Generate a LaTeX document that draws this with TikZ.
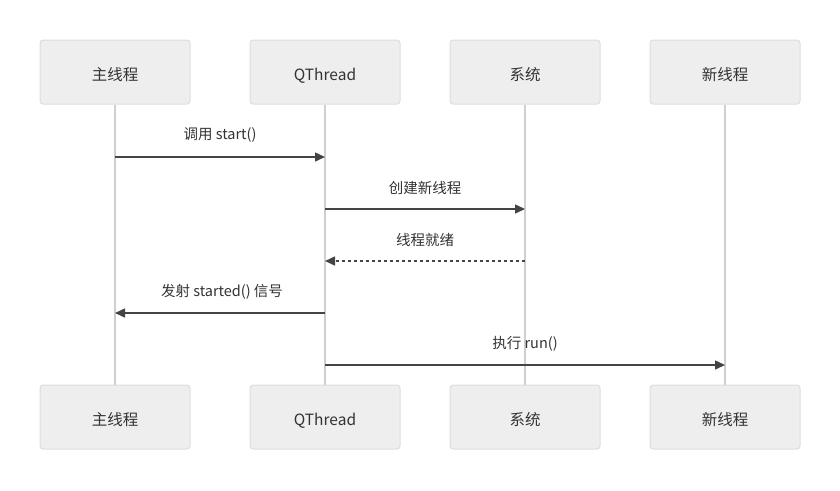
\documentclass[tikz,border=0pt]{standalone}
\usepackage{fontspec}
\setmainfont{Noto Sans CJK SC}
\usetikzlibrary{arrows.meta}
\definecolor{boxfill}{HTML}{EEEEEE}
\definecolor{boxline}{HTML}{DDDDDD}
\definecolor{lifeline}{HTML}{CFCFCF}
\definecolor{msgline}{HTML}{444444}
\definecolor{txt}{HTML}{333333}
\tikzset{
  actor/.style={draw=boxline, fill=boxfill, line width=1pt, rounded corners=3pt,
    minimum width=150pt, minimum height=64pt, inner sep=0pt,
    text height=17.5pt, text depth=0pt,
    font=\fontsize{15.5}{18}\selectfont, text=txt},
  life/.style={draw=lifeline, line width=2pt},
  msg/.style={draw=msgline, line width=1.5pt, -{Triangle[length=10pt,width=9pt]}},
  reply/.style={msg, dash pattern=on 3pt off 3pt},
  lbl/.style={font=\fontsize{14.5}{17}\selectfont, text=txt, inner sep=0pt},
}
\begin{document}
\begin{tikzpicture}[x=1pt,y=-1pt]
\useasboundingbox (0,0) rectangle (840,490);
% boxes
\node[actor] (a1) at (115,72) {主线程};
\node[actor] (b1) at (325,72) {QThread};
\node[actor] (c1) at (525,72) {系统};
\node[actor] (d1) at (725,72) {新线程};
\node[actor] (a2) at (115,417) {主线程};
\node[actor] (b2) at (325,417) {QThread};
\node[actor] (c2) at (525,417) {系统};
\node[actor] (d2) at (725,417) {新线程};
% lifelines
\draw[life] (a1.south) -- (a2.north);
\draw[life] (b1.south) -- (b2.north);
\draw[life] (c1.south) -- (c2.north);
\draw[life] (d1.south) -- (d2.north);
% message points
\coordinate (m1s) at (115,157); \coordinate (m1e) at (325,157);
\coordinate (m2s) at (325,209); \coordinate (m2e) at (525,209);
\coordinate (m3s) at (525,261); \coordinate (m3e) at (325,261);
\coordinate (m4s) at (325,313); \coordinate (m4e) at (115,313);
\coordinate (m5s) at (325,365); \coordinate (m5e) at (725,365);
\draw[msg] (m1s) -- (m1e);
\draw[msg] (m2s) -- (m2e);
\draw[reply] (m3s) -- (m3e);
\draw[msg] (m4s) -- (m4e);
\draw[msg] (m5s) -- (m5e);
\node[lbl] (l1) at (220,135) {调用 start()};
\node[lbl] (l2) at (425,188) {创建新线程};
\node[lbl] (l3) at (425,240) {线程就绪};
\node[lbl] (l4) at (222,292) {发射 started() 信号};
\node[lbl] (l5) at (525,344) {执行 run()};
\end{tikzpicture}
\end{document}
